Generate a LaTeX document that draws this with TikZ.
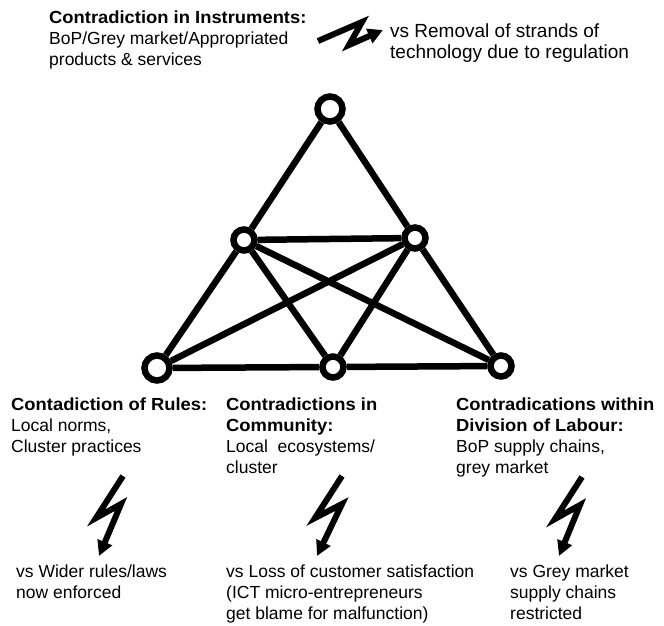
\documentclass[tikz,border=0pt]{standalone}
\usepackage{fontspec}
\setmainfont{Liberation Sans}[BoldFeatures={FakeStretch=1.05}]
\usetikzlibrary{arrows.meta}
\begin{document}
\begin{tikzpicture}[x=1pt,y=-1pt,
  edge/.style={line width=6.5pt},
  vertex/.style={circle,draw,fill=white,line width=6.5pt,minimum size=21pt,inner sep=0pt},
  bigvertex/.style={vertex,minimum size=25pt},
  txt/.style={anchor=north west,align=left,inner sep=0pt,font=\fontsize{17.5}{21}\selectfont},
  bigtxt/.style={txt,font=\fontsize{19}{21}\selectfont},
  bolt/.style={line width=6pt,line join=miter,-{Triangle[width=15pt,length=15pt]}}]
\useasboundingbox (0,0) rectangle (664,626);

% graph of contradictions
\node[bigvertex] (top) at (330,109) {};
\node[vertex] (ml) at (244,240) {};
\node[vertex] (mr) at (415,238) {};
\node[bigvertex] (bl) at (157,368) {};
\node[vertex] (bm) at (333,367) {};
\node[vertex] (br) at (501,366) {};

\draw[edge] (top) -- (ml);
\draw[edge] (top) -- (mr);
\draw[edge] (ml) -- (mr);
\draw[edge] (ml) -- (bl);
\draw[edge] (ml) -- (bm);
\draw[edge] (ml) -- (br);
\draw[edge] (mr) -- (bl);
\draw[edge] (mr) -- (bm);
\draw[edge] (mr) -- (br);
\draw[edge] (bl) -- (bm);
\draw[edge] (bm) -- (br);

% instruments
\node[txt] (instr) at (49,11) {\textbf{Contradiction in Instruments:}\\BoP/Grey market/Appropriated\\products \& services};
\node[bigtxt] (instrvs) at (390,24) {vs Removal of strands of\\technology due to regulation};
\coordinate (t1) at (318,41);
\coordinate (t2) at (362,22);
\coordinate (t3) at (349,45);
\coordinate (t4) at (383,30);
\draw[bolt] (t1) -- (t2) -- (t3) -- (t4);

% rules
\node[txt] (rules) at (11,398) {\textbf{Contadiction of Rules:}\\Local norms,\\Cluster practices};
\node[txt] (rulesvs) at (16,565) {vs Wider rules/laws\\now enforced};
\coordinate (a1) at (123,476);
\coordinate (a2) at (96,518);
\coordinate (a3) at (121,504);
\coordinate (a4) at (99,556);
\draw[bolt] (a1) -- (a2) -- (a3) -- (a4);

% community
\node[txt] (comm) at (226,398) {\textbf{Contradictions in}\\\textbf{Community:}\\Local\ \ ecosystems/\\cluster};
\node[txt] (commvs) at (226,565) {vs Loss of customer satisfaction\\(ICT micro-entrepreneurs\\get blame for malfunction)};
\coordinate (b1) at (342,476);
\coordinate (b2) at (315,518);
\coordinate (b3) at (342,504);
\coordinate (b4) at (317,556);
\draw[bolt] (b1) -- (b2) -- (b3) -- (b4);

% division of labour
\node[txt] (div) at (456,398) {\textbf{Contradications within}\\\textbf{Division of Labour:}\\BoP supply chains,\\grey market};
\node[txt] (divvs) at (510,565) {vs Grey market\\supply chains\\restricted};
\coordinate (c1) at (582,477);
\coordinate (c2) at (555,519);
\coordinate (c3) at (580,505);
\coordinate (c4) at (559,556);
\draw[bolt] (c1) -- (c2) -- (c3) -- (c4);
\end{tikzpicture}
\end{document}
